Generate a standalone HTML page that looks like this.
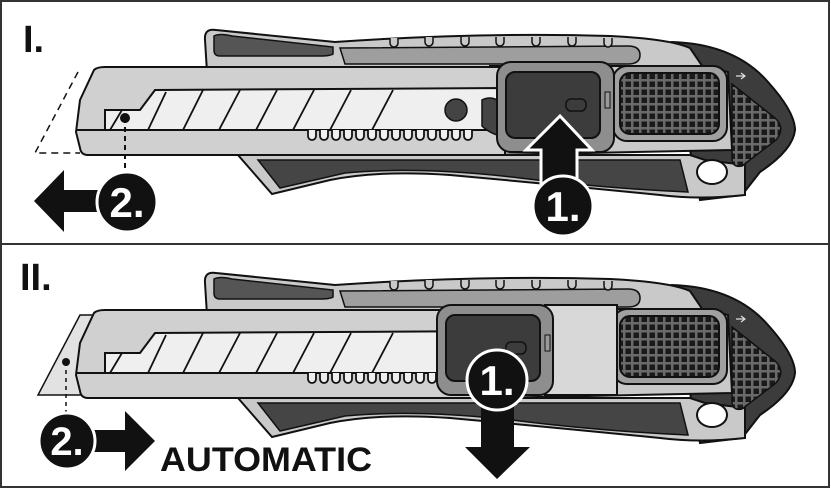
<!DOCTYPE html>
<html><head><meta charset="utf-8"><style>
html,body{margin:0;padding:0;background:#fff;width:831px;height:489px;overflow:hidden}
svg{display:block}
</style></head><body>
<svg width="831" height="489" viewBox="0 0 831 489" xmlns="http://www.w3.org/2000/svg">
<defs>
<pattern id="grid" x="0" y="0" width="8" height="8" patternUnits="userSpaceOnUse">
<rect width="8" height="8" fill="#6a6a6a"/><rect x="1.5" y="1.5" width="5.5" height="5.5" fill="#1a1a1a"/>
</pattern>
<g id="handle">
 <path d="M672,42 Q735,44 768,82 Q795,112 795,130 Q793,150 760,172 L742,195 L700,200 L690,150 Z" fill="#3c3c3c" stroke="#111" stroke-width="2"/>
 <path d="M205,40 Q204,28 216,30 L335,42 Q480,32 610,36 Q670,39 690,48 L705,70 L700,100 L207,72 Z" fill="#c9c9c9" stroke="#111" stroke-width="2"/>
 <path d="M214,36 Q220,33 232,36 L333,47 L333,54 Q330,56 320,56 L220,56 Q214,56 214,50 Z" fill="#555" stroke="#111" stroke-width="1.5"/>
 <path d="M340,48 L628,46 Q640,46 640,55 Q640,64 628,64 L345,64 Z" fill="#9e9e9e" stroke="#111" stroke-width="1.5"/>
 <g fill="#c9c9c9" stroke="#111" stroke-width="1.5">
  <path d="M390,38 v5 a4,4 0 0 0 8,0 v-5"/><path d="M425,37 v5 a4,4 0 0 0 8,0 v-5"/>
  <path d="M461,37 v5 a4,4 0 0 0 8,0 v-5"/><path d="M496,37 v5 a4,4 0 0 0 8,0 v-5"/>
  <path d="M532,37 v5 a4,4 0 0 0 8,0 v-5"/><path d="M568,37 v5 a4,4 0 0 0 8,0 v-5"/>
  <path d="M604,38 v5 a4,4 0 0 0 8,0 v-5"/>
 </g>
 <path d="M238,155 L690,155 L705,160 L745,165 L745,195 Q700,200 660,195 Q560,185 450,175 Q380,170 330,180 L272,194 Z" fill="#c9c9c9" stroke="#111" stroke-width="2"/>
 <path d="M258,160 L680,160 L688,192 Q600,188 520,178 Q420,166 345,173 L280,188 Z" fill="#454545" stroke="#111" stroke-width="1.5"/>
 <ellipse cx="712" cy="172" rx="15" ry="12" fill="#fff" stroke="#111" stroke-width="2"/>
 <path d="M490,66 L700,66 L728,72 L732,150 L490,155 Z" fill="#c9c9c9" stroke="#111" stroke-width="2"/>
 <path d="M732,84 L775,118 Q786,128 776,140 L742,166 Q732,168 732,158 Z" fill="url(#grid)" stroke="#111" stroke-width="1.5"/>
 <path d="M736,76 h8 m-3,-3 l4,3 l-4,3" fill="none" stroke="#ddd" stroke-width="1.2"/>
 <rect x="613" y="66" width="114" height="75" rx="14" fill="#a0a0a0" stroke="#111" stroke-width="2"/>
 <rect x="620" y="73" width="99" height="61" rx="10" fill="url(#grid)" stroke="#111" stroke-width="2"/>
</g>
<g id="housing">
 <path d="M80,100 L94,70 Q97,67 105,67 L505,67 L505,155 L88,155 Q81,155 80,148 L76,132 Z" fill="#d0d0d0" stroke="#111" stroke-width="2"/>
 <path d="M155,90 L505,88 L505,130 L105,130 L105,110 L140,110 Z" fill="#efefef" stroke="#111" stroke-width="2"/>
 <line x1="77" y1="130" x2="505" y2="130" stroke="#111" stroke-width="2"/>
 <g stroke="#111" stroke-width="1.8">
  <line x1="110" y1="130" x2="122" y2="110"/><line x1="148" y1="130" x2="166" y2="92"/>
  <line x1="183" y1="130" x2="203" y2="90"/><line x1="219" y1="130" x2="240" y2="90"/>
  <line x1="256" y1="130" x2="277" y2="90"/><line x1="293" y1="130" x2="314" y2="90"/>
  <line x1="330" y1="130" x2="351" y2="90"/><line x1="372" y1="130" x2="393" y2="90"/>
 </g>
 <g fill="#efefef" stroke="#111" stroke-width="1.8">
  <path d="M308,130 v6 a4,4 0 0 0 8,0 v-6"/><path d="M320,130 v6 a4,4 0 0 0 8,0 v-6"/>
  <path d="M332,130 v6 a4,4 0 0 0 8,0 v-6"/><path d="M344,130 v6 a4,4 0 0 0 8,0 v-6"/>
  <path d="M356,130 v6 a4,4 0 0 0 8,0 v-6"/><path d="M368,130 v6 a4,4 0 0 0 8,0 v-6"/>
  <path d="M380,130 v6 a4,4 0 0 0 8,0 v-6"/><path d="M392,130 v6 a4,4 0 0 0 8,0 v-6"/>
  <path d="M404,130 v6 a4,4 0 0 0 8,0 v-6"/><path d="M416,130 v6 a4,4 0 0 0 8,0 v-6"/>
  <path d="M428,130 v6 a4,4 0 0 0 8,0 v-6"/><path d="M440,130 v6 a4,4 0 0 0 8,0 v-6"/>
  <path d="M452,130 v6 a4,4 0 0 0 8,0 v-6"/><path d="M464,130 v6 a4,4 0 0 0 8,0 v-6"/>
 </g>
 <circle cx="456" cy="110" r="11" fill="#444" stroke="#111" stroke-width="1.5"/>
 <path d="M482,100 Q490,96 497,100 L497,135 Q488,132 482,126 Z" fill="#444" stroke="#111" stroke-width="1.5"/>
</g>
</defs>
<rect x="1" y="1" width="828" height="486" fill="#fff" stroke="#333" stroke-width="2"/>
<line x1="1" y1="244" x2="829" y2="244" stroke="#333" stroke-width="2"/>

<text x="23" y="52" font-family="Liberation Sans, sans-serif" font-weight="bold" font-size="38" fill="#111">I.</text>
<use href="#handle"/>
<use href="#housing"/>
<rect x="497" y="62" width="117" height="90" rx="14" fill="#8e8e8e" stroke="#111" stroke-width="2"/>
<rect x="506" y="72" width="94" height="66" rx="9" fill="#3c3c3c" stroke="#111" stroke-width="2"/>
<rect x="566" y="99" width="20" height="12" rx="5" fill="#3c3c3c" stroke="#111" stroke-width="1.5"/>
<rect x="605" y="92" width="5" height="16" fill="#999" stroke="#111" stroke-width="1"/>
<path d="M78,72 L35,153 L80,153" fill="none" stroke="#111" stroke-width="1.5" stroke-dasharray="7,5"/>
<circle cx="125" cy="118" r="5" fill="#111"/>
<line x1="125" y1="118" x2="125" y2="172" stroke="#111" stroke-width="2" stroke-dasharray="5,4"/>
<path d="M577,185 L577,150 L592,150 L560,116 L526,150 L541,150 L541,185 Z" fill="#111" stroke="#fff" stroke-width="3"/>
<circle cx="563" cy="206" r="30" fill="#111" stroke="#fff" stroke-width="3"/>
<text x="563" y="221" text-anchor="middle" font-family="Liberation Sans, sans-serif" font-weight="bold" font-size="42" fill="#fff">1.</text>
<path d="M100,190 L64,190 L64,170 L34,201 L64,232 L64,212 L100,212 Z" fill="#111"/>
<circle cx="127" cy="202" r="30" fill="#111" stroke="#fff" stroke-width="3"/>
<text x="127" y="217" text-anchor="middle" font-family="Liberation Sans, sans-serif" font-weight="bold" font-size="42" fill="#fff">2.</text>

<text x="20" y="290" font-family="Liberation Sans, sans-serif" font-weight="bold" font-size="38" fill="#111">II.</text>
<g transform="translate(0,243)">
 <path d="M38,152 L80,72 L100,72 L100,152 Z" fill="#e2e2e2" stroke="#111" stroke-width="1.5"/>
 <use href="#handle"/>
 <use href="#housing"/>
 <rect x="545" y="62" width="72" height="90" fill="#d8d8d8" stroke="#111" stroke-width="2"/>
 <rect x="437" y="62" width="116" height="90" rx="14" fill="#8e8e8e" stroke="#111" stroke-width="2"/>
 <rect x="446" y="72" width="94" height="66" rx="9" fill="#3c3c3c" stroke="#111" stroke-width="2"/>
 <rect x="506" y="99" width="20" height="12" rx="5" fill="#3c3c3c" stroke="#111" stroke-width="1.5"/>
 <rect x="545" y="92" width="5" height="16" fill="#999" stroke="#111" stroke-width="1"/>
</g>
<circle cx="66" cy="362" r="4" fill="#111"/>
<line x1="66" y1="362" x2="66" y2="416" stroke="#111" stroke-width="1.5" stroke-dasharray="4,4"/>
<path d="M481,405 L481,447 L465,447 L497,479 L530,447 L514,447 L514,405 Z" fill="#111"/>
<circle cx="497" cy="380" r="30" fill="#111" stroke="#fff" stroke-width="3"/>
<text x="497" y="395" text-anchor="middle" font-family="Liberation Sans, sans-serif" font-weight="bold" font-size="42" fill="#fff">1.</text>
<path d="M92,430 L125,430 L125,411 L155,441 L125,471 L125,452 L92,452 Z" fill="#111"/>
<circle cx="67" cy="441" r="28" fill="#111" stroke="#fff" stroke-width="3"/>
<text x="67" y="455" text-anchor="middle" font-family="Liberation Sans, sans-serif" font-weight="bold" font-size="40" fill="#fff">2.</text>
<text x="160" y="471" font-family="Liberation Sans, sans-serif" font-weight="bold" font-size="34" fill="#111" textLength="212" lengthAdjust="spacingAndGlyphs">AUTOMATIC</text>
</svg>
</body></html>
